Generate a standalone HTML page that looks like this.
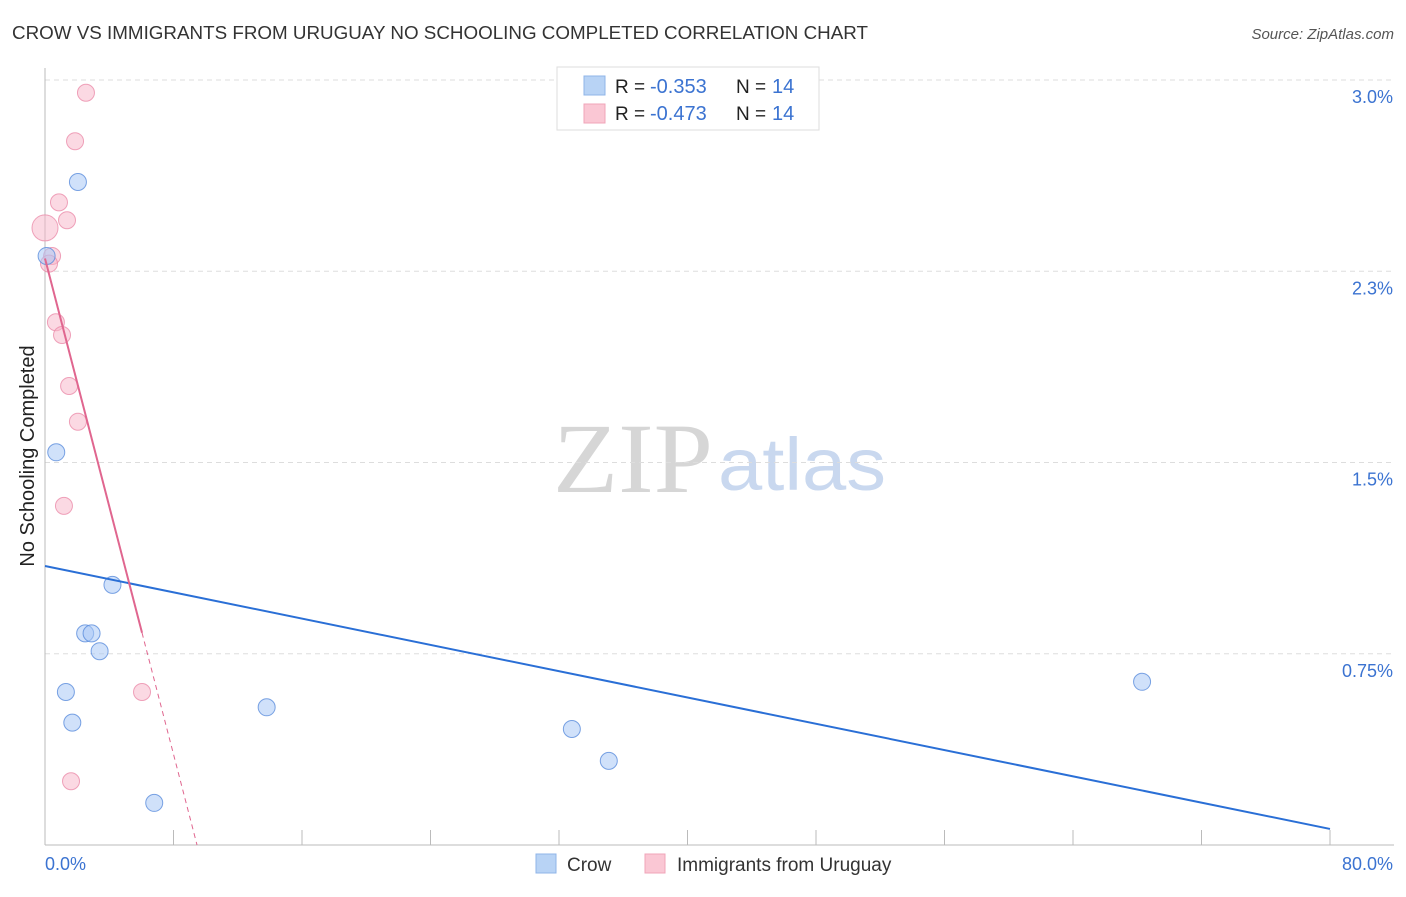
<!DOCTYPE html>
<html><head><meta charset="utf-8"><style>
body{margin:0;background:#fff;font-family:"Liberation Sans",sans-serif;}
</style></head><body>
<svg width="1406" height="892" font-family="Liberation Sans, sans-serif">
<text x="12" y="39" font-size="18" fill="#333" textLength="856" lengthAdjust="spacingAndGlyphs">CROW VS IMMIGRANTS FROM URUGUAY NO SCHOOLING COMPLETED CORRELATION CHART</text>
<text x="1394" y="39" font-size="15" fill="#555" font-style="italic" text-anchor="end">Source: ZipAtlas.com</text>
<text x="0" y="0" transform="translate(34,456) rotate(-90)" font-size="20" fill="#222" text-anchor="middle">No Schooling Completed</text>
<text x="553" y="492" font-size="100" fill="#d6d6d6" style="font-family:'Liberation Serif',serif" textLength="160" lengthAdjust="spacingAndGlyphs">ZIP</text>
<text x="718" y="490" font-size="74" fill="#c9d8ef" textLength="168" lengthAdjust="spacingAndGlyphs">atlas</text>
<g id="grid"></g>
<g id="axes"></g>
<g id="marks"></g>
<g>
<rect x="557" y="67" width="262" height="63" fill="#fff" stroke="#ddd"/>
<rect x="584" y="76" width="21" height="19" fill="#b8d3f5" stroke="#8fb4e8"/>
<rect x="584" y="104" width="21" height="19" fill="#fac7d4" stroke="#f0a4b9"/>
<text x="615" y="93" font-size="19" fill="#222">R =</text>
<text x="650" y="93" font-size="20" fill="#3b73d1">-0.353</text>
<text x="736" y="93" font-size="19" fill="#222">N =</text>
<text x="772" y="93" font-size="20" fill="#3b73d1">14</text>
<text x="615" y="120" font-size="19" fill="#222">R =</text>
<text x="650" y="120" font-size="20" fill="#3b73d1">-0.473</text>
<text x="736" y="120" font-size="19" fill="#222">N =</text>
<text x="772" y="120" font-size="20" fill="#3b73d1">14</text>
</g>
<g>
<rect x="536" y="854" width="20" height="19" fill="#b8d3f5" stroke="#8fb4e8"/>
<text x="567" y="871" font-size="19" fill="#333">Crow</text>
<rect x="645" y="854" width="20" height="19" fill="#fac7d4" stroke="#f0a4b9"/>
<text x="677" y="871" font-size="19" fill="#333">Immigrants from Uruguay</text>
</g>
</svg>
<script>
const yTicks=[3.0,2.25,1.5,0.75];
const yTickLabels=["3.0%","2.3%","1.5%","0.75%"];
const xTickLabels=["0.0%","80.0%"];
const crowX=[2.05,0.1,0.7,4.2,2.5,2.9,3.4,1.3,1.7,13.8,6.8,32.8,35.1,68.3];
const crowY=[2.60,2.31,1.54,1.02,0.83,0.83,0.76,0.60,0.48,0.54,0.165,0.455,0.33,0.64];
const uruX=[2.55,1.87,0.87,1.37,0.0,0.44,0.25,0.68,1.06,1.5,2.05,1.18,6.04,1.62];
const uruY=[2.95,2.76,2.52,2.45,2.42,2.31,2.28,2.05,2.0,1.80,1.66,1.33,0.60,0.25];
const crowTrend=[1.094,0.063];
const uruTrend=[2.30,-0.243];
const NS="http://www.w3.org/2000/svg";
const X=v=>45+v*1285/80, Y=v=>845-v*255;
function mk(p,t,a){const e=document.createElementNS(NS,t);for(const k in a)e.setAttribute(k,a[k]);document.getElementById(p).appendChild(e);return e;}
yTicks.forEach((v,i)=>{
 const l=mk('grid','line',{x1:45,x2:1394,y1:Y(v),y2:Y(v),stroke:'#ddd','stroke-dasharray':'5,4'});
 
 
 const t=mk('grid','text',{x:1393,y:Y(v)+23,'font-size':18,fill:'#3b73d1','text-anchor':'end'});
 t.textContent=yTickLabels[i];
 
 
});
let ax=mk('axes','line',{x1:45,x2:45,y1:68,y2:845,stroke:'#bbb'});


ax=mk('axes','line',{x1:45,x2:1394,y1:845,y2:845,stroke:'#bbb'});


for(let i=0;i<=10;i++){const t=mk('axes','line',{x1:X(i*8),x2:X(i*8),y1:830,y2:845,stroke:'#bbb'});
 
 }
[[0,'start',45],[80,'end',1393]].forEach((d,i)=>{const t=mk('axes','text',{x:d[2],y:870,'font-size':18,fill:'#3b73d1','text-anchor':d[1]});
 t.textContent=xTickLabels[i];
 
 });
uruX.forEach((x,i)=>{const c=mk('marks','circle',{cx:X(x),cy:Y(uruY[i]),r:x===0?13:8.5,fill:'rgba(248,180,200,0.5)',stroke:'rgba(235,140,170,0.8)'});
 
 });
crowX.forEach((x,i)=>{const c=mk('marks','circle',{cx:X(x),cy:Y(crowY[i]),r:8.5,fill:'rgba(170,200,245,0.55)',stroke:'rgba(90,140,220,0.8)'});
 
 });
let tl=mk('marks','line',{x1:X(0),y1:Y(crowTrend[0]),x2:X(80),y2:Y(crowTrend[1]),stroke:'#2a6fd6','stroke-width':2});


const xEnd=Math.max(...uruX), xZero=-uruTrend[0]/uruTrend[1];
tl=mk('marks','line',{x1:X(0),y1:Y(uruTrend[0]),x2:X(xEnd),y2:Y(uruTrend[0]+uruTrend[1]*xEnd),stroke:'#e0668f','stroke-width':2});


tl=mk('marks','line',{x1:X(xEnd),y1:Y(uruTrend[0]+uruTrend[1]*xEnd),x2:X(xZero),y2:Y(0),stroke:'#e0668f','stroke-width':1,'stroke-dasharray':'5,4'});


</script>
</body></html>
